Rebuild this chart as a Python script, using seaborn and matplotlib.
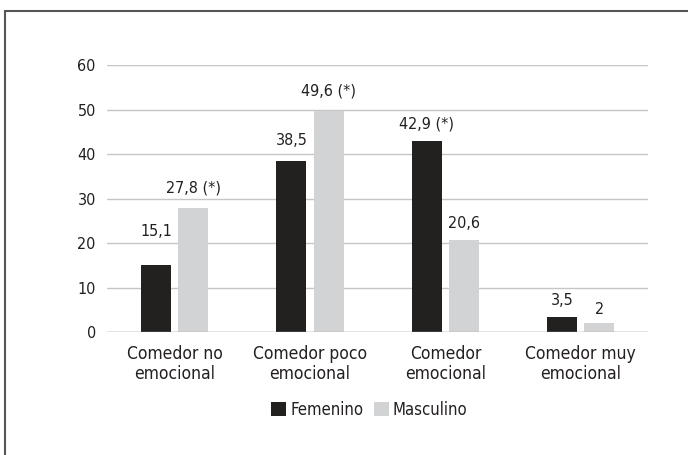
import pandas as pd
import matplotlib
matplotlib.use("Agg")
import matplotlib.pyplot as plt
import seaborn as sns
from matplotlib.patches import Rectangle

# data
categories = ["Comedor no\nemocional", "Comedor poco\nemocional",
              "Comedor\nemocional", "Comedor muy\nemocional"]
femenino = [15.1, 38.5, 42.9, 3.5]
masculino = [27.8, 49.6, 20.6, 2]
fem_labels = ["15,1", "38,5", "42,9 (*)", "3,5"]
mas_labels = ["27,8 (*)", "49,6 (*)", "20,6", "2"]
# label offsets above bars (points), as placed in the original
fem_pad = [19, 9, 7, 6]
mas_pad = [9, 9, 7, 4.5]

df = pd.DataFrame({
    "categoria": categories * 2,
    "valor": femenino + masculino,
    "sexo": ["Femenino"] * 4 + ["Masculino"] * 4,
})

sns.set_style("white")
plt.rcParams['font.family'] = ['DejaVu Sans']
plt.rcParams['font.stretch'] = 'condensed'

fig = plt.figure(figsize=(6.88, 4.55), dpi=100)
ax = fig.add_axes([0.1555, 0.270, 0.787, 0.587])

sns.barplot(
    data=df, x="categoria", y="valor", hue="sexo",
    palette={"Femenino": "#231f20", "Masculino": "#d1d3d4"},
    width=0.55, gap=0.19, linewidth=0, ax=ax, legend=True
)

# value labels
for cont, labs, pads in zip(ax.containers, [fem_labels, mas_labels],
                            [fem_pad, mas_pad]):
    for bar, lab, p in zip(cont, labs, pads):
        ax.annotate(lab, (bar.get_x() + bar.get_width() / 2, bar.get_height()),
                    xytext=(0, p), textcoords="offset points",
                    ha="center", va="bottom", fontsize=11.5, color="#231f20")

ax.set_ylim(0, 60)
ax.set_yticks(range(0, 61, 10))
ax.yaxis.grid(True, color="#c6c6c6", linewidth=1)
ax.set_axisbelow(True)
for s in ax.spines.values():
    s.set_visible(False)
ax.axhline(0, color="#a8a8a8", linewidth=1)
ax.tick_params(axis="both", length=0, labelsize=11.5, colors="#231f20")
ax.tick_params(axis="y", pad=8)
ax.tick_params(axis="x", labelsize=12.5, pad=9)
ax.set_xlabel("")
ax.set_ylabel("")

leg = ax.legend(loc="upper center", bbox_to_anchor=(0.485, -0.20), ncol=2,
                frameon=False, fontsize=12, handlelength=0.9, handleheight=0.9,
                handletextpad=0.25, columnspacing=0.6)
for t in leg.get_texts():
    t.set_color("#231f20")

# outer frame
fig.patches.append(Rectangle((5 / 688, -0.1), 1.2, 1 - 11 / 455 + 0.1,
                             transform=fig.transFigure, fill=False,
                             edgecolor="#555555", linewidth=1.5))

fig.savefig("out.png", dpi=100)
